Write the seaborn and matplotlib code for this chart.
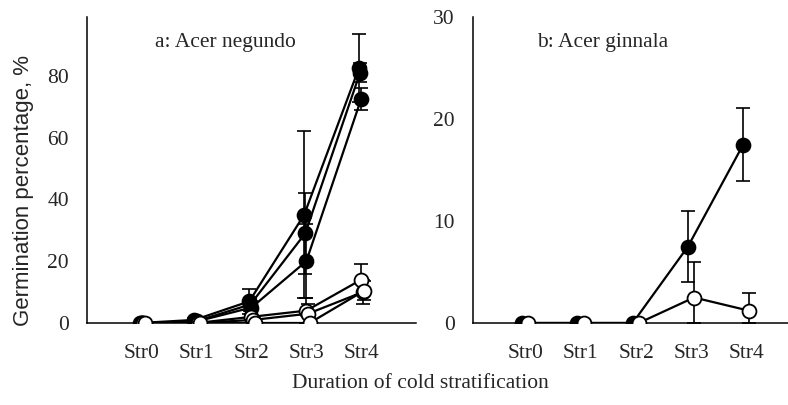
import numpy as np
import matplotlib
matplotlib.use("Agg")
import matplotlib.pyplot as plt
import seaborn as sns

# ---------------- data ----------------
categories = ["Str0", "Str1", "Str2", "Str3", "Str4"]

# Panel a: Acer negundo (three filled and three open series)
a_filled_1 = [0, 1.0, 7.0, 35.0, 82.5]
a_filled_1_err = [0, 0.5, 4.0, 27.0, 11.0]
a_filled_2 = [0, 0.5, 6.0, 29.0, 81.0]
a_filled_2_err = [0, 0.3, 2.0, 13.0, 3.0]
a_filled_3 = [0, 0.5, 5.0, 20.0, 72.5]
a_filled_3_err = [0, 0.3, 2.0, 12.0, 3.5]

a_open_1 = [0, 0, 2.0, 4.0, 14.0]
a_open_1_err = [0, 0, 1.0, 4.0, 5.0]
a_open_2 = [0, 0, 1.0, 3.0, 10.0]
a_open_2_err = [0, 0, 1.0, 3.0, 4.0]
a_open_3 = [0, 0, 0, 0, 10.5]
a_open_3_err = [0, 0, 0, 0, 3.0]

# Panel b: Acer ginnala
b_filled = [0, 0, 0, 7.5, 17.5]
b_filled_err = [0, 0, 0, 3.5, 3.6]
b_open = [0, 0, 0, 2.5, 1.2]
b_open_err_up = [0, 0, 0, 3.5, 1.7]
b_open_err_dn = [0, 0, 0, 2.5, 1.2]

a_yticks = [0, 20, 40, 60, 80]
b_yticks = [0, 10, 20, 30]

# ---------------- style ----------------
sns.set_style("white")
plt.rcParams["font.family"] = ["Liberation Serif", "DejaVu Serif"]

W, H = 788, 405
fig = plt.figure(figsize=(W / 100, H / 100), dpi=100)

def axrect(x0, y_top, x1, y_bot):
    return [x0 / W, 1 - y_bot / H, (x1 - x0) / W, (y_bot - y_top) / H]

ax_a = fig.add_axes(axrect(87, 17, 416, 323))
ax_b = fig.add_axes(axrect(473, 17, 788, 323))

xpos = np.arange(len(categories))
FS = 15.5

def draw(ax, vals, err, dx, filled, err_dn=None):
    x = xpos + dx
    lo = err if err_dn is None else err_dn
    ax.errorbar(x, vals, yerr=[lo, err], fmt="none", ecolor="black",
                elinewidth=1.2, capsize=5, capthick=1.2, zorder=2)
    sns.lineplot(x=x, y=vals, ax=ax, color="black", linewidth=1.6,
                 marker="o", markersize=10,
                 markerfacecolor="black" if filled else "white",
                 markeredgecolor="black", markeredgewidth=1.3,
                 zorder=3)

# panel a
draw(ax_a, a_filled_1, a_filled_1_err, -0.04, True)
draw(ax_a, a_filled_2, a_filled_2_err, -0.02, True)
draw(ax_a, a_filled_3, a_filled_3_err, 0.0, True)
draw(ax_a, a_open_1, a_open_1_err, 0.0, False)
draw(ax_a, a_open_2, a_open_2_err, 0.03, False)
draw(ax_a, a_open_3, a_open_3_err, 0.06, False)

# panel b
draw(ax_b, b_filled, b_filled_err, -0.06, True)
draw(ax_b, b_open, b_open_err_up, 0.05, False, err_dn=b_open_err_dn)

for ax, ylim, yt in [(ax_a, (0, 99), a_yticks), (ax_b, (0, 30), b_yticks)]:
    ax.set_ylim(*ylim)
    ax.set_yticks(yt)
    ax.set_yticklabels([str(v) for v in yt], fontsize=FS)
    ax.set_xticks(xpos)
    ax.set_xticklabels(categories, fontsize=FS)
    ax.tick_params(axis="y", direction="in", length=7, width=1.0, pad=13)
    ax.tick_params(axis="x", length=0, pad=15)
    for s in ["top", "right"]:
        ax.spines[s].set_visible(False)
    for s in ["left", "bottom"]:
        ax.spines[s].set_color("black")
        ax.spines[s].set_linewidth(1.1)
    ax.set_xlabel("")
    ax.set_ylabel("")
    ax.grid(False)

ax_a.set_xlim(-1.0, 5.0)
ax_b.set_xlim(-0.95, 4.75)

fig.text(225 / W, 1 - 43 / H, "a: Acer negundo", ha="center", va="center", fontsize=FS)
fig.text(603 / W, 1 - 43 / H, "b: Acer ginnala", ha="center", va="center", fontsize=FS)
fig.text(420 / W, 1 - 383 / H, "Duration of cold stratification", ha="center", va="center", fontsize=FS)
fig.text(24 / W, 1 - 190 / H, "Germination percentage, %", ha="center", va="center",
         rotation=90, fontsize=16, family=["Liberation Sans", "DejaVu Sans"])

fig.savefig("out.png", dpi=100)
